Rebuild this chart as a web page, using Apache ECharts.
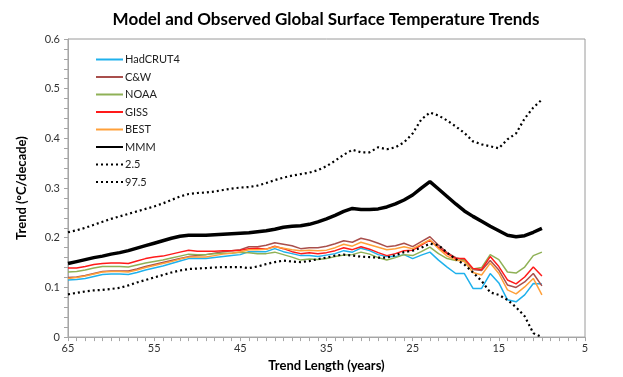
<!DOCTYPE html>
<html>
<head>
<meta charset="utf-8">
<script src="https://cdn.jsdelivr.net/npm/echarts@6/dist/echarts.min.js"></script>
<style>
  html, body { margin: 0; padding: 0; background: #fff; }
  #main { width: 623px; height: 377px; }
</style>
</head>
<body>
<div id="main"></div>
<script>
// trend length in years, 65 down to 10
const years = []
for (let t = 65; t >= 10; t--) years.push(t)

const hadcrut4 = [0.115, 0.116, 0.118, 0.122, 0.126, 0.127, 0.127, 0.126, 0.130, 0.135, 0.139, 0.143, 0.148, 0.153, 0.158, 0.158, 0.158, 0.160, 0.162, 0.164, 0.166, 0.172, 0.172, 0.172, 0.178, 0.172, 0.168, 0.164, 0.164, 0.162, 0.165, 0.168, 0.174, 0.171, 0.179, 0.174, 0.166, 0.162, 0.162, 0.166, 0.158, 0.165, 0.171, 0.155, 0.141, 0.128, 0.128, 0.098, 0.098, 0.128, 0.109, 0.075, 0.071, 0.085, 0.108, 0.107]
const cw = [0.120, 0.121, 0.124, 0.128, 0.132, 0.133, 0.133, 0.133, 0.137, 0.142, 0.146, 0.150, 0.154, 0.158, 0.162, 0.164, 0.166, 0.169, 0.172, 0.174, 0.176, 0.182, 0.182, 0.185, 0.190, 0.187, 0.184, 0.178, 0.180, 0.180, 0.183, 0.188, 0.194, 0.191, 0.199, 0.195, 0.189, 0.182, 0.184, 0.189, 0.182, 0.192, 0.202, 0.185, 0.170, 0.160, 0.155, 0.136, 0.134, 0.154, 0.135, 0.105, 0.100, 0.111, 0.128, 0.103]
const noaa = [0.131, 0.132, 0.135, 0.139, 0.142, 0.142, 0.142, 0.141, 0.145, 0.149, 0.152, 0.155, 0.159, 0.163, 0.167, 0.166, 0.166, 0.168, 0.169, 0.169, 0.171, 0.170, 0.168, 0.168, 0.171, 0.166, 0.161, 0.155, 0.157, 0.156, 0.158, 0.162, 0.165, 0.166, 0.171, 0.167, 0.160, 0.155, 0.160, 0.166, 0.164, 0.172, 0.181, 0.168, 0.158, 0.154, 0.155, 0.137, 0.140, 0.166, 0.156, 0.131, 0.129, 0.141, 0.164, 0.171]
const giss = [0.139, 0.139, 0.142, 0.146, 0.148, 0.149, 0.149, 0.148, 0.153, 0.158, 0.161, 0.163, 0.167, 0.171, 0.175, 0.173, 0.173, 0.173, 0.174, 0.174, 0.175, 0.178, 0.179, 0.177, 0.183, 0.178, 0.172, 0.168, 0.170, 0.168, 0.170, 0.174, 0.180, 0.176, 0.182, 0.177, 0.170, 0.164, 0.168, 0.174, 0.175, 0.185, 0.195, 0.180, 0.168, 0.158, 0.158, 0.138, 0.136, 0.162, 0.142, 0.115, 0.107, 0.121, 0.141, 0.123]
const best = [0.118, 0.120, 0.123, 0.127, 0.131, 0.132, 0.132, 0.131, 0.135, 0.140, 0.144, 0.148, 0.152, 0.157, 0.161, 0.161, 0.161, 0.164, 0.167, 0.169, 0.172, 0.176, 0.176, 0.177, 0.182, 0.179, 0.176, 0.174, 0.175, 0.174, 0.175, 0.180, 0.187, 0.183, 0.191, 0.186, 0.181, 0.176, 0.178, 0.182, 0.178, 0.187, 0.196, 0.178, 0.163, 0.155, 0.152, 0.130, 0.125, 0.149, 0.128, 0.095, 0.087, 0.101, 0.118, 0.085]
const mmm = [0.148, 0.152, 0.156, 0.160, 0.163, 0.167, 0.170, 0.174, 0.179, 0.184, 0.189, 0.194, 0.199, 0.203, 0.205, 0.205, 0.205, 0.206, 0.207, 0.208, 0.209, 0.210, 0.212, 0.214, 0.217, 0.221, 0.223, 0.224, 0.227, 0.232, 0.238, 0.245, 0.253, 0.259, 0.257, 0.257, 0.258, 0.262, 0.268, 0.276, 0.286, 0.300, 0.313, 0.298, 0.283, 0.268, 0.254, 0.243, 0.233, 0.223, 0.214, 0.205, 0.202, 0.204, 0.211, 0.219]
const p025 = [0.086, 0.089, 0.092, 0.094, 0.095, 0.097, 0.099, 0.104, 0.110, 0.115, 0.120, 0.125, 0.130, 0.134, 0.137, 0.138, 0.139, 0.140, 0.141, 0.141, 0.141, 0.139, 0.142, 0.147, 0.151, 0.154, 0.152, 0.151, 0.153, 0.157, 0.160, 0.164, 0.166, 0.164, 0.162, 0.161, 0.160, 0.160, 0.165, 0.171, 0.174, 0.180, 0.188, 0.185, 0.170, 0.157, 0.146, 0.130, 0.113, 0.090, 0.085, 0.075, 0.060, 0.042, 0.008, 0.000]
const p975 = [0.211, 0.215, 0.220, 0.226, 0.232, 0.238, 0.243, 0.248, 0.253, 0.258, 0.263, 0.269, 0.276, 0.283, 0.288, 0.290, 0.291, 0.293, 0.296, 0.299, 0.301, 0.302, 0.305, 0.310, 0.316, 0.321, 0.325, 0.328, 0.331, 0.336, 0.344, 0.355, 0.367, 0.377, 0.372, 0.372, 0.382, 0.378, 0.382, 0.392, 0.410, 0.438, 0.452, 0.446, 0.436, 0.424, 0.411, 0.394, 0.388, 0.384, 0.380, 0.398, 0.410, 0.440, 0.462, 0.478]

const pairs = (vals) => years.map((t, i) => [t, vals[i]])

function line(name, vals, color, width, type) {
  return {
    name: name,
    type: 'line',
    showSymbol: false,
    symbol: 'none',
    animation: false,
    lineStyle: { color: color, width: width, type: type || 'solid' },
    itemStyle: { color: color },
    data: pairs(vals)
  }
}

const chart = echarts.init(document.getElementById('main'))
const font = 'Lato, "Open Sans", sans-serif'

chart.setOption({
  backgroundColor: '#fff',
  title: {
    text: 'Model and Observed Global Surface Temperature Trends',
    left: 321,
    textAlign: 'center',
    top: 6,
    textStyle: { fontFamily: font, fontSize: 17, fontWeight: 'bold', color: '#000' }
  },
  legend: {
    orient: 'vertical',
    left: 90,
    top: 49,
    itemWidth: 27,
    itemHeight: 10,
    itemGap: 6.5,
    itemStyle: { opacity: 0 },
    textStyle: { fontFamily: font, fontSize: 11, lineHeight: 10, color: '#222', padding: [0, 0, 0, -3] },
    data: ['HadCRUT4', 'C&W', 'NOAA', 'GISS', 'BEST', 'MMM', '2.5', '97.5']
  },
  grid: {
    left: 68, right: 38, top: 39, bottom: 36,
    show: true, borderColor: '#9a9a9a', borderWidth: 1, backgroundColor: '#fff'
  },
  xAxis: {
    type: 'value',
    inverse: true,
    min: 5, max: 65, interval: 10,
    name: 'Trend Length (years)',
    nameLocation: 'middle',
    nameGap: 19,
    nameTextStyle: { fontFamily: font, fontSize: 13, fontWeight: 'bold', color: '#000' },
    axisLine: { lineStyle: { color: '#a6a6a6' } },
    axisTick: { show: true, length: 4, lineStyle: { color: '#a6a6a6' } },
    minorTick: { show: true, splitNumber: 10, length: 4, lineStyle: { color: '#a6a6a6' } },
    splitLine: { show: false },
    axisLabel: { fontFamily: font, fontSize: 11, color: '#333', margin: 6 }
  },
  yAxis: {
    type: 'value',
    min: 0, max: 0.6, interval: 0.1,
    name: 'Trend (°C/decade)',
    nameLocation: 'middle',
    nameGap: 40,
    nameTextStyle: { fontFamily: font, fontSize: 13, fontWeight: 'bold', color: '#000' },
    axisLine: { show: true, lineStyle: { color: '#a6a6a6' } },
    axisTick: { show: true, length: 4, lineStyle: { color: '#a6a6a6' } },
    minorTick: { show: true, splitNumber: 5, length: 4, lineStyle: { color: '#a6a6a6' } },
    splitLine: { show: false },
    axisLabel: { fontFamily: font, fontSize: 11, color: '#333', margin: 8 }
  },
  series: [
    line('HadCRUT4', hadcrut4, '#1fb1ec', 1.5),
    line('C&W', cw, '#a94f4c', 1.5),
    line('NOAA', noaa, '#8fb156', 1.5),
    line('GISS', giss, '#ff1a1a', 1.5),
    line('BEST', best, '#ffa03a', 1.5),
    line('MMM', mmm, '#000', 3.5),
    line('2.5', p025, '#000', 2.2, [2, 3]),
    line('97.5', p975, '#000', 2.2, [2, 3])
  ]
})
</script>
</body>
</html>
